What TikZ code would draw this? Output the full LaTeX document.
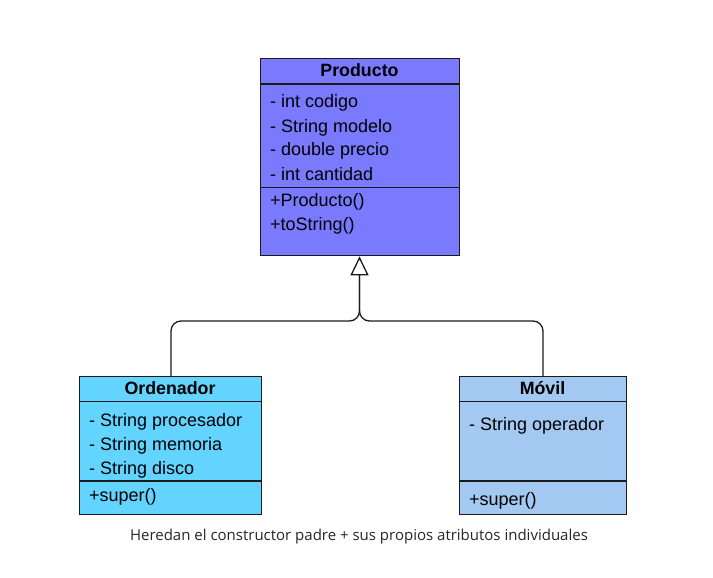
\documentclass[tikz,border=0pt]{standalone}
\usepackage{fontspec}
\setmainfont{Liberation Sans}
\newfontfamily\capfont{Open Sans}
\usetikzlibrary{arrows.meta}
\definecolor{prodfill}{HTML}{7A7AFF}
\definecolor{ordfill}{HTML}{63D3FF}
\definecolor{movfill}{HTML}{A3C8F2}
\definecolor{edge}{HTML}{1A1A1A}
\begin{document}
\begin{tikzpicture}[x=1pt,y=-1pt,
  classbox/.style={draw=edge,line width=1.3pt,anchor=north west,inner sep=0pt},
  divider/.style={draw=edge,line width=1.1pt},
  attr/.style={anchor=base west,inner sep=0pt,font=\fontsize{18}{21}\selectfont},
  title/.style={anchor=base,inner sep=0pt,font=\fontsize{17.8}{21}\selectfont\bfseries},
  conn/.style={draw=edge,line width=1.3pt,rounded corners=10pt},
  genarrow/.style={draw=edge,line width=1.3pt,-{Triangle[length=19pt,width=18pt,fill=white]}}]
\useasboundingbox (0,0) rectangle (713,578);
% boxes
\node[classbox,fill=prodfill,minimum width=199pt,minimum height=197pt] (prod) at (260,58) {};
\node[classbox,fill=ordfill,minimum width=182pt,minimum height=138pt] (ord) at (79,376) {};
\node[classbox,fill=movfill,minimum width=167pt,minimum height=138pt] (mov) at (459,376) {};
% dividers
\draw[divider] (260,84) -- (459,84);
\draw[divider] (260,187.5) -- (459,187.5);
\draw[divider] (79,401.5) -- (261,401.5);
\draw[divider] (79,481) -- (261,481);
\draw[divider] (459,401.5) -- (626,401.5);
\draw[divider] (459,481) -- (626,481);
% texts Producto
\node[title] (tprod) at (359.5,77) {Producto};
\node[attr] (p1) at (270,108) {- int codigo};
\node[attr] (p2) at (270,132) {- String modelo};
\node[attr] (p3) at (270,156) {- double precio};
\node[attr] (p4) at (270,180) {- int cantidad};
\node[attr] (p5) at (270,206) {+Producto()};
\node[attr] (p6) at (270,230) {+toString()};
% Ordenador
\node[title] (tord) at (170,394) {Ordenador};
\node[attr] (o1) at (89,426) {- String procesador};
\node[attr] (o2) at (89,450) {- String memoria};
\node[attr] (o3) at (89,474) {- String disco};
\node[attr] (o4) at (89,501) {+super()};
% Movil
\node[title] (tmov) at (542.5,394) {Móvil};
\node[attr] (m1) at (469,430) {- String operador};
\node[attr] (m2) at (469,505) {+super()};
% connectors
\coordinate (j) at (359.5,275);
\coordinate (hl) at (171,321);
\coordinate (hr) at (543,321);
\draw[conn] (ord.north -| hl) -- (hl) -- (359.5,321) -- (j);
\draw[conn] (mov.north -| hr) -- (hr) -- (359.5,321) -- (j);
\draw[genarrow] (j) -- (prod.south -| j);
% caption
\node[anchor=base,inner sep=0pt,font=\capfont\fontsize{15}{17}\selectfont,text=black!85] (cap) at (359,540) {Heredan el constructor padre + sus propios atributos individuales};
\end{tikzpicture}
\end{document}
